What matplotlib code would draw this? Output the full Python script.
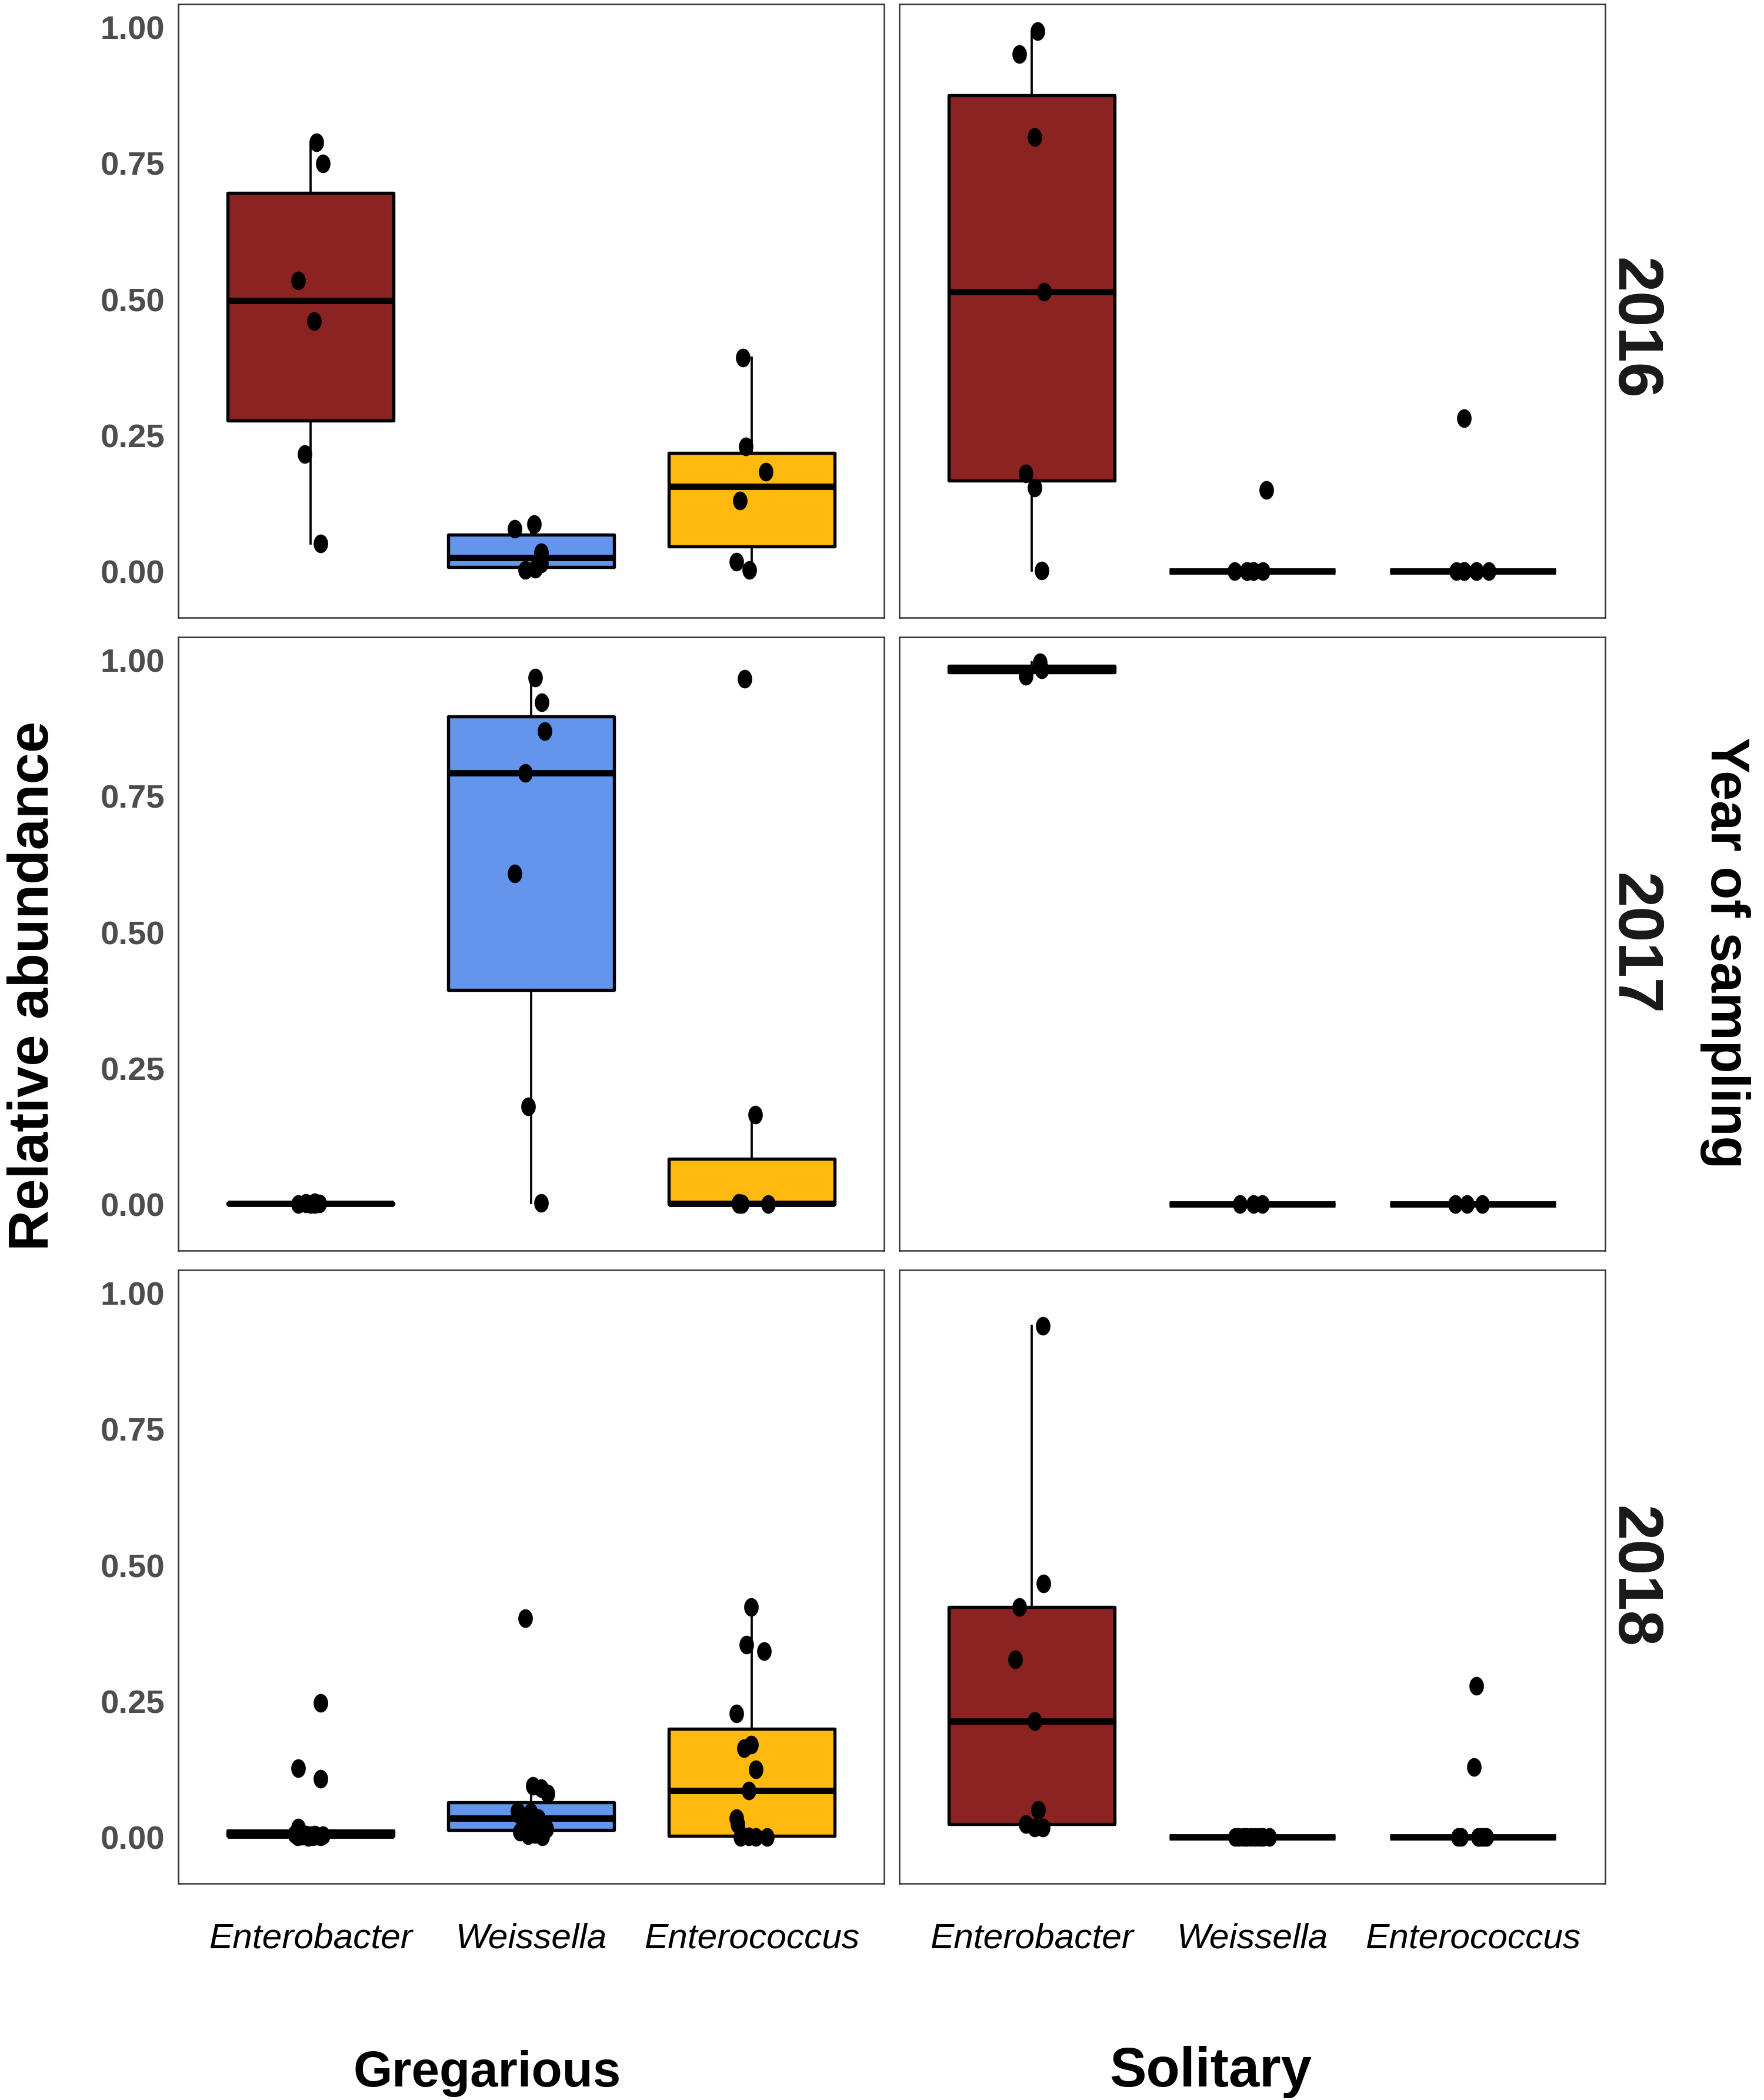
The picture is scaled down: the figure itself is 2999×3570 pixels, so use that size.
import numpy as np
import matplotlib
matplotlib.use("Agg")
import matplotlib.pyplot as plt
from matplotlib.path import Path

# ---------------- data ----------------
genera = ["Enterobacter", "Weissella", "Enterococcus"]
groups = ["Gregarious", "Solitary"]
years = ["2016", "2017", "2018"]
y_ticks = [0.00, 0.25, 0.50, 0.75, 1.00]
y_tick_labels = ["0.00", "0.25", "0.50", "0.75", "1.00"]
genus_colors = ["#8B2323", "#6495ED", "#FFB90F"]

# Gregarious 2016
greg16_enterobacter = [0.789, 0.750, 0.535, 0.460, 0.216, 0.051]
greg16_weissella = [0.078, 0.087, 0.035, 0.015, 0.003, 0.005]
greg16_enterococcus = [0.393, 0.230, 0.183, 0.130, 0.018, 0.003]
# Solitary 2016
sol16_enterobacter = [0.993, 0.951, 0.799, 0.514, 0.180, 0.154, 0.002]
sol16_weissella = [0.0, 0.0, 0.0, 0.0, 0.0, 0.0, 0.150]
sol16_enterococcus = [0.0, 0.0, 0.0, 0.0, 0.0, 0.0, 0.282]
# Gregarious 2017
greg17_enterobacter = [0.0, 0.002, 0.004, 0.001, 0.0, 0.003, 0.0]
greg17_weissella = [0.968, 0.923, 0.870, 0.793, 0.608, 0.180, 0.003]
greg17_enterococcus = [0.966, 0.165, 0.003, 0.001, 0.0, 0.0, 0.0]
# Solitary 2017
sol17_enterobacter = [0.996, 0.984, 0.972]
sol17_weissella = [0.0, 0.0, 0.0]
sol17_enterococcus = [0.0, 0.0, 0.0]
# Gregarious 2018
greg18_enterobacter = [0.247, 0.127, 0.108, 0.018, 0.006, 0.005, 0.005, 0.004,
                       0.004, 0.003, 0.003, 0.002, 0.002, 0.001, 0.0]
greg18_weissella = [0.403, 0.095, 0.090, 0.080, 0.048, 0.046, 0.040, 0.035,
                    0.030, 0.025, 0.016, 0.010, 0.006, 0.004, 0.002]
greg18_enterococcus = [0.423, 0.354, 0.342, 0.228, 0.170, 0.164, 0.125, 0.086,
                       0.035, 0.024, 0.003, 0.002, 0.0, 0.0, 0.0]
# Solitary 2018
sol18_enterobacter = [0.940, 0.467, 0.423, 0.327, 0.213, 0.050, 0.024, 0.018, 0.018]
sol18_weissella = [0.0, 0.0, 0.0, 0.0, 0.0, 0.0, 0.0, 0.0, 0.0]
sol18_enterococcus = [0.278, 0.129, 0.0, 0.0, 0.0, 0.0, 0.0, 0.0, 0.0]

# horizontal jitter offsets of the points
jit_greg16_enterobacter = [0.026, 0.057, -0.057, 0.015, -0.026, 0.046]
jit_greg16_weissella = [-0.075, 0.013, 0.044, 0.044, -0.028, 0.018]
jit_greg16_enterococcus = [-0.039, -0.028, 0.064, -0.054, -0.070, -0.010]
jit_sol16_enterobacter = [0.027, -0.057, 0.014, 0.055, -0.027, 0.014, 0.045]
jit_sol16_weissella = [-0.079, -0.025, 0.005, 0.048, 0.005, -0.025, 0.064]
jit_sol16_enterococcus = [-0.074, -0.041, 0.015, 0.071, -0.041, 0.015, -0.041]
jit_greg17_enterobacter = [-0.057, -0.021, 0.018, 0.039, 0.0, -0.021, 0.018]
jit_greg17_weissella = [0.018, 0.049, 0.062, -0.028, -0.075, -0.013, 0.044]
jit_greg17_enterococcus = [-0.031, 0.015, -0.059, -0.046, 0.075, -0.046, -0.059]
jit_sol17_enterobacter = [0.037, 0.045, -0.026]
jit_sol17_weissella = [-0.056, 0.005, 0.046]
jit_sol17_enterococcus = [-0.079, -0.028, 0.043]
jit_greg18_enterobacter = [0.046, -0.057, 0.046, -0.057, -0.072, -0.021, 0.018,
                           0.057, 0.0, -0.040, 0.030, -0.060, 0.010, 0.045, -0.010]
jit_greg18_weissella = [-0.028, 0.008, 0.044, 0.075, -0.062, -0.003, -0.052, 0.031,
                        -0.031, 0.018, 0.070, -0.052, 0.018, -0.013, 0.050]
jit_greg18_enterococcus = [-0.003, -0.023, 0.057, -0.070, -0.003, -0.034, 0.018,
                           -0.013, -0.070, -0.064, -0.044, -0.013, 0.018, 0.070, -0.050]
jit_sol18_enterobacter = [0.050, 0.052, -0.057, -0.075, 0.014, 0.029, -0.027, 0.014, 0.050]
jit_sol18_weissella = [-0.077, -0.062, -0.041, -0.028, -0.005, 0.012, 0.033, 0.047, 0.076]
jit_sol18_enterococcus = [0.015, 0.005, -0.066, 0.023, 0.061, 0.043, -0.053, 0.030, 0.052]

panels = {
    (0, 0): ([greg16_enterobacter, greg16_weissella, greg16_enterococcus],
             [jit_greg16_enterobacter, jit_greg16_weissella, jit_greg16_enterococcus]),
    (0, 1): ([sol16_enterobacter, sol16_weissella, sol16_enterococcus],
             [jit_sol16_enterobacter, jit_sol16_weissella, jit_sol16_enterococcus]),
    (1, 0): ([greg17_enterobacter, greg17_weissella, greg17_enterococcus],
             [jit_greg17_enterobacter, jit_greg17_weissella, jit_greg17_enterococcus]),
    (1, 1): ([sol17_enterobacter, sol17_weissella, sol17_enterococcus],
             [jit_sol17_enterobacter, jit_sol17_weissella, jit_sol17_enterococcus]),
    (2, 0): ([greg18_enterobacter, greg18_weissella, greg18_enterococcus],
             [jit_greg18_enterobacter, jit_greg18_weissella, jit_greg18_enterococcus]),
    (2, 1): ([sol18_enterobacter, sol18_weissella, sol18_enterococcus],
             [jit_sol18_enterobacter, jit_sol18_weissella, jit_sol18_enterococcus]),
}

# ---------------- styling ----------------
W, H = 2999, 3570
DPI = 300
fig = plt.figure(figsize=(W / DPI, H / DPI), dpi=DPI)
fig.patch.set_facecolor("white")

SANS = ["Liberation Sans", "DejaVu Sans"]

col_left = [303, 1529]
col_w = 1200
row_top = [7, 1083, 2159]
row_h = 1043
strip_dy = [30, 0, 0]

# ellipse marker (points in the figure are slightly taller than wide)
t = np.linspace(0, 2 * np.pi, 64)
ell = Path(np.column_stack([0.78 * np.cos(t), np.sin(t)]), closed=True)

positions = [1, 2, 3]
for (r, c), (vals, jits) in panels.items():
    ax = fig.add_axes([col_left[c] / W, 1 - (row_top[r] + row_h) / H, col_w / W, row_h / H])
    bp = ax.boxplot(vals, positions=positions, widths=0.75, whis=1.5,
                    showfliers=False, showcaps=False, patch_artist=True,
                    medianprops=dict(color="black", linewidth=2.6, solid_capstyle="butt"),
                    whiskerprops=dict(color="black", linewidth=0.9),
                    boxprops=dict(edgecolor="black", linewidth=1.3))
    for patch, col in zip(bp["boxes"], genus_colors):
        patch.set_facecolor(col)
        patch.set_joinstyle("round")
    for i, (v, j) in enumerate(zip(vals, jits)):
        ax.plot(np.array(j) + positions[i], v, linestyle="none", marker=ell,
                markersize=7.6, color="black", markeredgewidth=0, zorder=5)
    ax.set_xlim(0.4, 3.6)
    ax.set_ylim(-0.085, 1.043)
    ax.set_yticks(y_ticks)
    ax.set_xticks(positions)
    ax.tick_params(length=0)
    for sp in ax.spines.values():
        sp.set_color("#333333")
        sp.set_linewidth(0.6)
    if c == 0:
        ax.set_yticklabels(y_tick_labels, fontfamily=SANS, fontweight="bold",
                           fontsize=13.5, color="#4D4D4D")
        ax.tick_params(axis="y", pad=5.5)
    else:
        ax.set_yticklabels([])
    if r == 2:
        ax.set_xticklabels(genera, fontfamily=SANS, fontstyle="italic",
                           fontsize=14.5, color="black")
        ax.tick_params(axis="x", pad=16)
    else:
        ax.set_xticklabels([])
    # strip label (year) on the right
    fig.text(2776 / W, 1 - (row_top[r] + row_h / 2 + strip_dy[r]) / H, years[r],
             rotation=-90, ha="center", va="center", fontfamily=SANS,
             fontweight="bold", fontsize=26, color="#1A1A1A")

# axis titles
fig.text(57 / W, 1 - 1676 / H, "Relative abundance", rotation=90, ha="center",
         va="center", fontfamily=SANS, fontweight="bold", fontsize=23, color="black")
fig.text(2933 / W, 1 - 1620 / H, "Year of sampling", rotation=-90, ha="center",
         va="center", fontfamily=SANS, fontweight="bold", fontsize=22, color="black")
fig.text(828 / W, 1 - 3547 / H, groups[0], ha="center", va="baseline",
         fontfamily=SANS, fontweight="bold", fontsize=20.5, color="black")
fig.text(2058 / W, 1 - 3547 / H, groups[1], ha="center", va="baseline",
         fontfamily=SANS, fontweight="bold", fontsize=22.5, color="black")

fig.savefig("out.png", dpi=DPI, facecolor="white")
